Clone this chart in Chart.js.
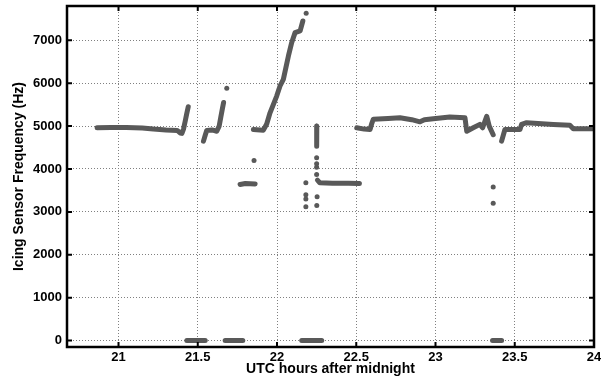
<!DOCTYPE html>
<html>
<head>
<meta charset="utf-8">
<script src="https://cdn.jsdelivr.net/npm/chart.js@4/dist/chart.umd.min.js"></script>
<style>
  html, body { margin: 0; padding: 0; background: #fff; }
  canvas { display: block; }
</style>
</head>
<body>
<canvas id="icing" width="601" height="378"></canvas>
<script>
// hours after midnight (UTC), sensor frequency (Hz)
const xTicks = [21, 21.5, 22, 22.5, 23, 23.5, 24];
const yTicks = [0, 1000, 2000, 3000, 4000, 5000, 6000, 7000];

// continuous runs of samples
const run1 = [[20.865,4960],[20.95,4970],[21.05,4970],[21.15,4955],[21.22,4930],[21.3,4910],[21.37,4900],[21.39,4840],[21.4,4830],[21.41,4930],[21.42,5100],[21.43,5280],[21.44,5450]];
const run2 = [[21.536,4650],[21.548,4800],[21.557,4900],[21.59,4910],[21.62,4880],[21.635,5000],[21.645,5200],[21.655,5400],[21.663,5550]];
const run3 = [[21.767,3640],[21.8,3660],[21.862,3650]];
const run4 = [[21.851,4920],[21.914,4905],[21.935,5050],[21.956,5310],[21.998,5700],[22.019,5935],[22.04,6090],[22.072,6635],[22.093,6950],[22.114,7180],[22.146,7220],[22.163,7450]];
const run5 = [[22.251,5000],[22.249,4800],[22.252,4650],[22.25,4530]];
const run6 = [[22.255,3740],[22.27,3680],[22.35,3670],[22.45,3665],[22.52,3660]];
const run7 = [[22.503,4960],[22.55,4930],[22.587,4920],[22.597,5050],[22.608,5160],[22.7,5180],[22.776,5195],[22.85,5150],[22.902,5100],[22.93,5150],[22.986,5170],[23.09,5210],[23.186,5195],[23.197,4880],[23.238,4960],[23.28,5040],[23.297,4960],[23.323,5230],[23.339,5000],[23.364,4800]];
const run8 = [[23.417,4650],[23.438,4920],[23.533,4920],[23.543,5040],[23.575,5080],[23.743,5040],[23.848,5020],[23.869,4940],[24.0,4940]];

// dropouts at 0 Hz
const zero1 = [[21.431,0],[21.547,0]];
const zero2 = [[21.673,0],[21.784,0]];
const zero3 = [[22.156,0],[22.282,0]];
const zero4 = [[23.36,0],[23.417,0]];

// single scattered samples
const strays = [[21.683,5880],[21.855,4200],[22.184,7630],[22.25,4260],[22.25,4120],[22.25,4040],[22.25,3870],
  [22.253,3350],[22.251,3150],[22.182,3680],[22.182,3400],[22.182,3300],[22.182,3120],[23.364,3580],[23.364,3200]];

const grey = '#595959';
const toXY = arr => arr.map(p => ({ x: p[0], y: p[1] }));

const runs = [run1, run2, run3, run4, run5, run6, run7, run8, zero1, zero2, zero3, zero4];
const datasets = runs.map(r => ({
    data: toXY(r),
    showLine: true,
    borderColor: grey,
    borderWidth: 5,
    borderCapStyle: 'round',
    borderJoinStyle: 'round',
    pointRadius: 0
}));
datasets.push({
    data: toXY(strays),
    showLine: false,
    pointRadius: 2.5,
    pointBackgroundColor: grey,
    pointBorderWidth: 0
});

// box round the plot + inward tick marks (matlab look)
const frame = {
    id: 'frame',
    afterDatasetsDraw(chart) {
        const { ctx, chartArea: a, scales: { x, y } } = chart;
        ctx.save();
        ctx.strokeStyle = '#000';
        ctx.lineWidth = 2;
        ctx.beginPath();
        xTicks.forEach(v => {
            const px = x.getPixelForValue(v);
            ctx.moveTo(px, a.bottom); ctx.lineTo(px, a.bottom - 5);
            ctx.moveTo(px, a.top); ctx.lineTo(px, a.top + 5);
        });
        yTicks.forEach(v => {
            const py = y.getPixelForValue(v);
            ctx.moveTo(a.left, py); ctx.lineTo(a.left + 5, py);
            ctx.moveTo(a.right, py); ctx.lineTo(a.right - 5, py);
        });
        ctx.stroke();
        ctx.lineWidth = 2.5;
        ctx.strokeRect(a.left, a.top, a.right - a.left, a.bottom - a.top);
        ctx.restore();
    }
};

const font = { family: '"Liberation Sans", Arial, sans-serif', weight: 'bold', size: 13 };

new Chart(document.getElementById('icing'), {
    type: 'scatter',
    data: { datasets: datasets },
    options: {
        responsive: false,
        animation: false,
        layout: { padding: { left: 0, top: 6, right: 7, bottom: 0 } },
        plugins: { legend: { display: false }, tooltip: { enabled: false } },
        scales: {
            x: {
                type: 'linear',
                min: 20.675,
                max: 24,
                afterFit: s => { s.height = 31; s.paddingLeft = 0; s.paddingRight = 0; },
                afterBuildTicks: s => { s.ticks = xTicks.map(v => ({ value: v })); },
                ticks: { font: font, color: '#000', padding: 3, maxRotation: 0,
                         callback: v => String(Number(v.toFixed(1))) },
                grid: { color: '#808080', drawTicks: false, lineWidth: 1 },
                border: { display: false, dash: [1, 2] },
                title: { display: true, text: 'UTC hours after midnight', color: '#000',
                         font: { family: font.family, weight: 'bold', size: 14 }, padding: 0 }
            },
            y: {
                type: 'linear',
                min: -150,
                max: 7800,
                afterFit: s => { s.width = 67; s.paddingTop = 0; s.paddingBottom = 0; },
                afterBuildTicks: s => { s.ticks = yTicks.map(v => ({ value: v })); },
                ticks: { font: font, color: '#000', padding: 5, callback: v => String(v) },
                grid: { color: '#808080', drawTicks: false, lineWidth: 1 },
                border: { display: false, dash: [1, 2] },
                title: { display: true, text: 'Icing Sensor Frequency (Hz)', color: '#000',
                         font: { family: font.family, weight: 'bold', size: 14 }, padding: { top: 11 } }
            }
        }
    },
    plugins: [frame]
});
</script>
</body>
</html>
